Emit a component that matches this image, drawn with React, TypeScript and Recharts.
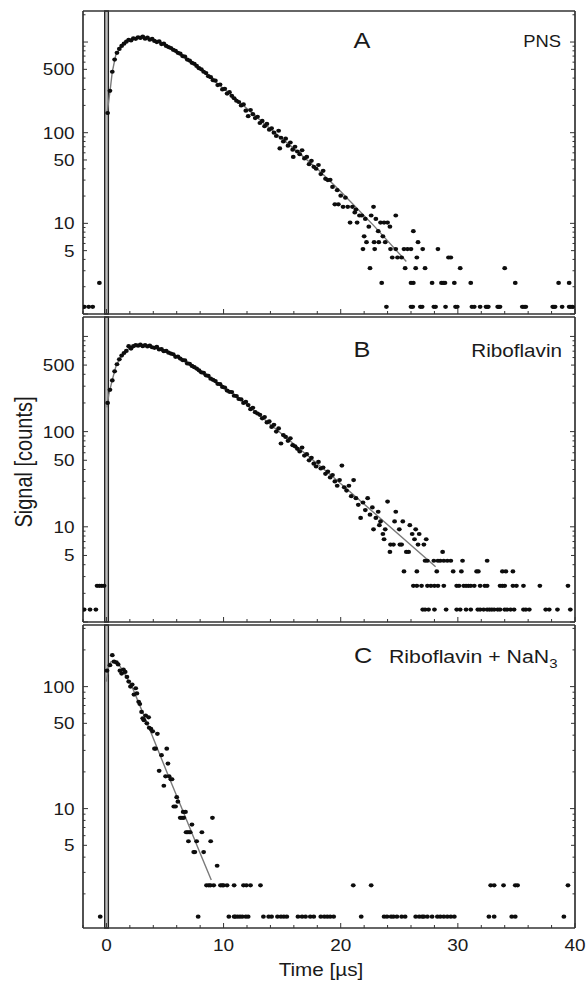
import React from 'react';
import { ScatterChart, Scatter, XAxis, YAxis, ReferenceArea } from 'recharts';

// ---------- axis ticks ----------
const X_TICKS = [-2, 0, 2, 4, 6, 8, 10, 12, 14, 16, 18, 20, 22, 24, 26, 28, 30, 32, 34, 36, 38, 40];
const X_LABELS = [0, 10, 20, 30, 40];
const Y_TICKS_A = [1, 2, 3, 4, 5, 6, 7, 8, 9, 10, 20, 30, 40, 50, 60, 70, 80, 90, 100, 200, 300, 400, 500, 600, 700, 800, 900, 1000, 2000];
const Y_TICKS_B = [1, 2, 3, 4, 5, 6, 7, 8, 9, 10, 20, 30, 40, 50, 60, 70, 80, 90, 100, 200, 300, 400, 500, 600, 700, 800, 900, 1000];
const Y_TICKS_C = [2, 3, 4, 5, 6, 7, 8, 9, 10, 20, 30, 40, 50, 60, 70, 80, 90, 100, 200, 300];
const Y_LABELS = [5, 10, 50, 100, 500];
const Y_MAJOR = [1, 10, 100, 1000];

// ---------- panel A : PNS ----------
const A_DECAY: [number, number][] = [
  [0.1, 165], [0.3, 290], [0.5, 470], [0.7, 640], [0.9, 760], [1.1, 840], [1.3, 905], [1.5, 960], [1.7, 1010], [1.9, 1060],
  [2.1, 1040], [2.3, 1100], [2.5, 1085], [2.7, 1130], [2.9, 1110], [3.1, 1150], [3.3, 1090], [3.5, 1120], [3.7, 1060], [3.9, 1085],
  [4.1, 1030], [4.3, 1000], [4.5, 1020], [4.7, 950], [4.9, 960], [5.1, 905], [5.3, 880], [5.5, 860], [5.7, 820], [5.9, 800],
  [6.1, 760], [6.3, 745], [6.5, 700], [6.7, 690], [6.9, 640], [7.1, 625], [7.3, 590], [7.5, 575], [7.7, 545], [7.9, 515],
  [8.1, 500], [8.3, 470], [8.5, 455], [8.7, 420], [8.9, 410], [9.1, 380], [9.3, 375], [9.5, 335], [9.7, 340], [9.9, 300],
  [10.1, 305], [10.3, 270], [10.5, 280], [10.7, 255], [10.9, 240], [11.1, 225], [11.3, 218], [11.5, 200], [11.7, 205], [11.9, 175],
  [12.1, 152], [12.3, 178], [12.5, 160], [12.7, 145], [12.9, 150], [13.1, 128], [13.3, 135], [13.5, 118], [13.7, 125], [13.9, 108],
  [14.1, 112], [14.3, 100], [14.5, 92], [14.7, 105], [14.8, 67], [14.9, 88], [15.1, 80], [15.3, 86], [15.5, 72], [15.7, 78],
  [15.9, 65], [15.95, 54], [16.1, 70], [16.3, 62], [16.5, 58], [16.7, 64], [16.9, 52], [17.1, 54], [17.3, 45], [17.5, 49],
  [17.7, 42], [17.9, 40], [18.1, 44], [18.3, 35], [18.5, 38], [18.7, 31], [18.9, 30],
];
const A_TAIL: [number, number][] = [
  [19.1, 30.2], [19.3, 25.2], [19.5, 16.2], [19.7, 23.2], [19.8, 16.2], [20.0, 20.2], [20.2, 15.2], [20.4, 19.2], [20.6, 15.2],
  [20.8, 10.2], [21.0, 15.2], [21.2, 13.2], [21.3, 14.2], [21.4, 10.2], [21.6, 12.2], [21.8, 12.2], [22.0, 7.2], [22.1, 11.2],
  [22.2, 6.2], [22.4, 9.2], [22.6, 12.2], [22.8, 15.2], [22.85, 6.2], [23.0, 11.2], [23.2, 8.2], [23.4, 10.2], [23.6, 7.2],
  [23.7, 10.2], [24.0, 10.2], [24.2, 9.2], [24.7, 12.2], [26.2, 8.2],
];
const A_LEVELS: [number, number[]][] = [
  [1.2, [-1.88, -1.51, -1.17, 23.9, 26.0, 26.15, 26.8, 26.95, 27.95, 28.1, 28.95, 29.8, 29.95, 31.2, 31.4, 31.9, 32.4, 32.5, 32.6,
    33.4, 33.5, 33.6, 35.5, 35.65, 35.8, 38.1, 38.2, 38.3, 38.9, 39.5, 39.65, 39.8]],
  [2.2, [-0.6, 23.5, 26.0, 26.2, 27.8, 28.6, 28.75, 28.9, 29.7, 31.1, 34.9, 38.6, 39.5]],
  [3.2, [22.5, 25.5, 26.4, 27.2, 30.2, 34.0]],
  [4.2, [24.4, 24.85, 25.2, 26.5, 29.2, 29.4]],
  [5.2, [21.9, 22.9, 24.25, 24.7, 25.4, 25.7, 26.0, 27.0, 28.3]],
  [6.2, [23.25, 23.8, 26.6]],
];
const A_FIT: [number, number][] = [
  [0.05, 160], [0.35, 320], [0.5, 470], [0.8, 720], [1.2, 870], [1.6, 1000], [2.2, 1080], [2.9, 1120], [3.8, 1080], [4.6, 970],
  [5.5, 850], [6.3, 720], [7.2, 610], [8.0, 505], [8.9, 405], [9.7, 330], [10.6, 265], [11.4, 215], [13.5, 125], [15.7, 72],
  [18.0, 40], [20.0, 22.5], [22.8, 9.5], [25.6, 3.8],
];

// ---------- panel B : Riboflavin ----------
const B_DECAY: [number, number][] = [
  [0.1, 200], [0.3, 275], [0.5, 345], [0.7, 430], [0.9, 510], [1.1, 575], [1.3, 630], [1.5, 670], [1.7, 705], [1.9, 790],
  [2.1, 745], [2.3, 790], [2.5, 810], [2.7, 800], [2.9, 820], [3.1, 790], [3.3, 810], [3.5, 785], [3.7, 800], [3.9, 770],
  [4.1, 760], [4.3, 775], [4.5, 730], [4.7, 735], [4.9, 700], [5.1, 705], [5.3, 675], [5.5, 660], [5.7, 650], [5.9, 610],
  [6.1, 615], [6.3, 585], [6.5, 565], [6.7, 560], [6.9, 520], [7.1, 515], [7.3, 490], [7.5, 475], [7.7, 460], [7.9, 440],
  [8.1, 420], [8.3, 415], [8.5, 390], [8.7, 385], [8.9, 360], [9.1, 350], [9.3, 340], [9.5, 318], [9.7, 315], [9.9, 295],
  [10.1, 290], [10.3, 270], [10.5, 262], [10.7, 260], [10.9, 238], [11.1, 236], [11.3, 220], [11.5, 218], [11.7, 200], [11.9, 205],
  [12.1, 190], [12.3, 172], [12.5, 178], [12.7, 160], [12.9, 155], [13.1, 150], [13.3, 138], [13.5, 142], [13.7, 125], [13.9, 128],
  [14.1, 112], [14.3, 118], [14.5, 100], [14.7, 108], [14.9, 75], [15.1, 92], [15.3, 88], [15.5, 80], [15.7, 85], [15.9, 72],
  [16.1, 70], [16.3, 66], [16.5, 62], [16.7, 68], [16.9, 56], [17.1, 58], [17.3, 50], [17.5, 53], [17.7, 46], [17.9, 43],
  [18.1, 48], [18.3, 41], [18.5, 42], [18.7, 36], [18.9, 38], [19.1, 33], [19.3, 35], [19.5, 30], [19.7, 27], [19.9, 31],
  [20.1, 44], [20.3, 26], [20.5, 24], [20.7, 27], [20.9, 21], [21.1, 31], [21.3, 20], [21.5, 17], [21.7, 12.4], [21.9, 18],
  [22.1, 15], [22.3, 20], [22.5, 13.4], [22.7, 16], [22.8, 9.4], [23.0, 12.4], [23.2, 14.4], [23.4, 11.4],
];
const B_TAIL: [number, number][] = [
  [23.3, 10.4], [23.6, 8.4], [23.7, 7.4], [23.8, 9.4], [24.0, 18.4], [24.6, 11.4], [24.7, 14.4], [25.0, 9.4], [25.3, 11.4],
  [25.9, 10.4], [26.1, 8.4], [26.3, 7.4], [26.4, 9.4], [26.7, 8.4], [27.3, 7.4],
];
const B_LEVELS: [number, number[]][] = [
  [1.35, [-1.9, -1.4, -0.9, 27.0, 27.2, 27.5, 28.0, 29.0, 29.9, 30.2, 30.7, 31.1, 31.7, 31.9, 32.2, 32.5, 32.7, 32.9, 33.1, 33.4,
    33.6, 34.0, 34.2, 34.5, 34.8, 35.6, 35.8, 36.1, 37.5, 37.8, 38.5, 39.6]],
  [2.4, [-0.8, -0.6, -0.4, -0.2, 26.2, 26.5, 26.9, 27.4, 27.7, 28.0, 28.3, 28.8, 29.9, 30.1, 30.5, 30.7, 30.9, 31.1, 31.4, 31.9,
    32.3, 32.5, 33.6, 33.8, 34.0, 34.7, 35.0, 35.6, 37.0, 39.4]],
  [3.4, [25.4, 26.5, 28.2, 29.6, 30.3, 31.6, 31.75, 33.8, 34.1, 34.7]],
  [4.4, [27.2, 27.4, 27.95, 28.3, 28.5, 28.8, 29.1, 29.4, 30.4, 32.5]],
  [5.45, [24.2, 25.6, 25.8, 28.7]],
  [6.5, [24.25, 24.5, 25.05, 25.2, 26.6, 27.1]],
];
const B_FIT: [number, number][] = [
  [0.05, 180], [0.2, 245], [0.5, 350], [0.8, 480], [1.2, 610], [1.6, 695], [2.05, 770], [2.75, 805], [3.5, 795], [4.6, 725],
  [5.5, 665], [6.3, 590], [7.2, 505], [8.0, 430], [8.9, 365], [9.7, 310], [10.6, 263], [11.4, 222], [12.3, 178], [19.4, 33],
  [28.1, 3.8],
];

// ---------- panel C : Riboflavin + NaN3 ----------
const C_DECAY: [number, number][] = [
  [0.05, 135], [0.3, 150], [0.5, 181], [0.65, 160], [0.85, 158], [1.0, 152], [1.15, 135], [1.3, 128], [1.45, 138], [1.6, 132],
  [1.75, 120], [1.9, 110], [2.05, 100], [2.2, 104], [2.35, 86], [2.5, 97], [2.6, 88], [2.75, 75], [2.85, 72], [3.0, 62],
  [3.1, 55], [3.2, 53], [3.35, 58], [3.45, 50], [3.6, 56], [3.65, 46], [3.8, 45], [3.95, 43], [4.1, 31], [4.2, 31],
  [4.35, 41], [4.5, 20.4], [4.7, 27.4], [4.9, 15.4], [5.05, 18.4], [5.15, 31], [5.25, 23.4], [5.35, 18.4], [5.5, 17.4], [5.6, 17.4],
  [5.75, 10.4], [5.9, 10.4], [6.0, 12.4], [6.1, 11.4], [6.3, 8.4], [6.45, 8.4], [6.55, 9.4], [6.6, 8.4], [6.75, 9.4], [6.8, 6.4],
  [6.9, 6.4], [7.0, 5.4], [7.05, 6.4], [7.15, 6.4], [7.3, 7.4], [7.45, 4.4], [7.55, 4.4], [7.7, 5.4], [8.15, 6.4], [8.3, 4.4],
  [8.9, 5.4], [9.05, 8.4], [9.45, 3.4],
];
const C_LEVELS: [number, number[]][] = [
  [1.3, [-0.53, 7.83, 10.45, 10.9, 11.0, 11.2, 11.4, 11.6, 11.9, 12.1, 13.4, 13.85, 14.1, 14.6, 14.9, 15.15, 15.4, 16.35, 16.7,
    17.0, 17.4, 17.7, 18.3, 18.6, 18.85, 19.1, 19.4, 21.75, 23.7, 23.95, 24.3, 24.5, 24.8, 25.2, 25.5, 26.4, 26.7, 26.95, 27.1,
    27.4, 27.8, 28.25, 28.5, 28.8, 29.1, 29.4, 29.7, 32.65, 33.1, 34.6, 34.9, 39.05]],
  [2.35, [8.54, 8.74, 8.88, 9.16, 9.73, 9.88, 10.0, 10.3, 10.9, 11.7, 11.95, 12.3, 13.15, 21.07, 22.6, 32.8, 33.1, 33.9, 34.9,
    35.1, 39.4]],
];
const C_FIT: [number, number][] = [
  [0.0, 110], [0.2, 150], [0.4, 160], [0.7, 162], [1.0, 155], [1.5, 130], [2.3, 94], [3.8, 42], [5.2, 19.5], [6.6, 9.2],
  [8.0, 4.3], [8.95, 2.6],
];

// ---------- helpers ----------
type P = { t: number; v: number };
const toPts = (pairs: [number, number][]): P[] => pairs.map(([t, v]) => ({ t, v }));
const levelPts = (levels: [number, number[]][]): P[] =>
  levels.flatMap(([v, ts]) => ts.map((t) => ({ t, v })));

const FONT = '"Liberation Sans", Arial, Helvetica, sans-serif';
const SX = 1.15; // horizontal stretch of the reference figure
const INK = '#1a1a1a';
const FRAME = '#333';

const SText = ({ x, y, size, anchor, rotate, children }: any) => (
  <g transform={`translate(${x},${y}) scale(${SX},1)${rotate ? ` rotate(${rotate})` : ''}`}>
    <text x={0} y={0} fontSize={size} fontFamily={FONT} textAnchor={anchor} fill={INK}>
      {children}
    </text>
  </g>
);

const makeXTick = (labels: boolean) => (props: any) => {
  const { x, y, payload } = props;
  const v = payload.value;
  const major = v % 10 === 0;
  return (
    <g>
      <line x1={x} y1={y} x2={x} y2={y - (major ? 5 : 3)} stroke={FRAME} strokeWidth={1} />
      {labels && X_LABELS.includes(v) ? (
        <SText x={x} y={y + 22.5} size={16.5} anchor="middle">{String(v)}</SText>
      ) : null}
    </g>
  );
};

const LeftTick = (props: any) => {
  const { x, y, payload } = props;
  const v = payload.value;
  const len = Y_MAJOR.includes(v) ? 5 : Y_LABELS.includes(v) ? 4 : 2.5;
  return (
    <g>
      <line x1={x} y1={y} x2={x + len} y2={y} stroke={FRAME} strokeWidth={1} />
      {Y_LABELS.includes(v) ? (
        <SText x={x - 8.5} y={y + 5.9} size={16.5} anchor="end">{String(v)}</SText>
      ) : null}
    </g>
  );
};

const RightTick = (props: any) => {
  const { x, y, payload } = props;
  const v = payload.value;
  const len = Y_MAJOR.includes(v) ? 5 : Y_LABELS.includes(v) ? 4 : 2.5;
  return <line x1={x} y1={y} x2={x - len} y2={y} stroke={FRAME} strokeWidth={1} />;
};

const Dot = (p: any) => <ellipse cx={p.cx} cy={p.cy} rx={2.4} ry={2.1} fill="#0d0d0d" />;
const NoDot = () => <g />;

const W = 586;
const H = 982;

const Panel = ({ top, bottom, domain, yTicks, points, fit, labels }: any) => (
  <div style={{ position: 'absolute', left: 0, top: 0 }}>
    <ScatterChart width={W} height={H} margin={{ top: top - 1, bottom: H - bottom - 1, left: 8, right: 10 }}>
      <XAxis
        type="number" dataKey="t" domain={[-2, 40]} ticks={X_TICKS} interval={0} allowDataOverflow
        height={1} tickSize={0} tickMargin={0} tickLine={false} tick={makeXTick(labels)}
        axisLine={{ stroke: FRAME, strokeWidth: 1.7 }}
      />
      <XAxis
        xAxisId="top" orientation="top" type="number" domain={[-2, 40]} allowDataOverflow
        height={1} tick={false} tickLine={false} axisLine={{ stroke: FRAME, strokeWidth: 1.7 }}
      />
      <YAxis
        type="number" dataKey="v" scale="log" domain={domain} ticks={yTicks} interval={0} allowDataOverflow
        width={75} tickSize={0} tickMargin={0} tickLine={false} tick={LeftTick}
        axisLine={{ stroke: FRAME, strokeWidth: 1.7 }}
      />
      <YAxis
        yAxisId="right" orientation="right" type="number" scale="log" domain={domain} ticks={yTicks} interval={0}
        allowDataOverflow width={1} tickSize={0} tickMargin={0} tickLine={false} tick={RightTick}
        axisLine={{ stroke: FRAME, strokeWidth: 1.7 }}
      />
      <ReferenceArea x1={-0.15} x2={0.17} stroke="#222" strokeWidth={1.3} fill="#a0a0a0" fillOpacity={0.7} ifOverflow="visible" />
      <Scatter data={fit} line={{ stroke: '#7a7a7a', strokeWidth: 1.4 }} shape={NoDot} isAnimationActive={false} />
      <Scatter data={points} shape={Dot} isAnimationActive={false} />
    </ScatterChart>
  </div>
);

const A_POINTS = [...toPts(A_DECAY), ...toPts(A_TAIL), ...levelPts(A_LEVELS)];
const B_POINTS = [...toPts(B_DECAY), ...toPts(B_TAIL), ...levelPts(B_LEVELS)];
const C_POINTS = [...toPts(C_DECAY), ...levelPts(C_LEVELS)];

export default function App() {
  return (
    <div style={{ position: 'absolute', left: 0, top: 0, width: W, height: H, background: '#fff', overflow: 'hidden' }}>
      <Panel top={11} bottom={314} domain={[1, 2200]} yTicks={Y_TICKS_A} points={A_POINTS} fit={toPts(A_FIT)} labels={false} />
      <Panel top={317} bottom={622} domain={[1, 1600]} yTicks={Y_TICKS_B} points={B_POINTS} fit={toPts(B_FIT)} labels={false} />
      <Panel top={625} bottom={928} domain={[1.05, 320]} yTicks={Y_TICKS_C} points={C_POINTS} fit={toPts(C_FIT)} labels={true} />
      <svg width={W} height={H} style={{ position: 'absolute', left: 0, top: 0, pointerEvents: 'none' }}>
        <SText x={362} y={48} size={22} anchor="middle">A</SText>
        <SText x={561} y={47} size={16} anchor="end">PNS</SText>
        <SText x={362} y={357} size={22} anchor="middle">B</SText>
        <SText x={562} y={357} size={18} anchor="end">Riboflavin</SText>
        <SText x={363} y={663} size={22} anchor="middle">C</SText>
        <g transform={`translate(389,663) scale(${SX},1)`}>
          <text x={0} y={0} fontSize={18.5} fontFamily={FONT} fill={INK}>
            Riboflavin + NaN<tspan fontSize={13} dy={5}>3</tspan>
          </text>
        </g>
        <SText x={32} y={462} size={20} anchor="middle" rotate={-90}>Signal [counts]</SText>
        <SText x={321} y={976} size={18} anchor="middle">Time [µs]</SText>
      </svg>
    </div>
  );
}
